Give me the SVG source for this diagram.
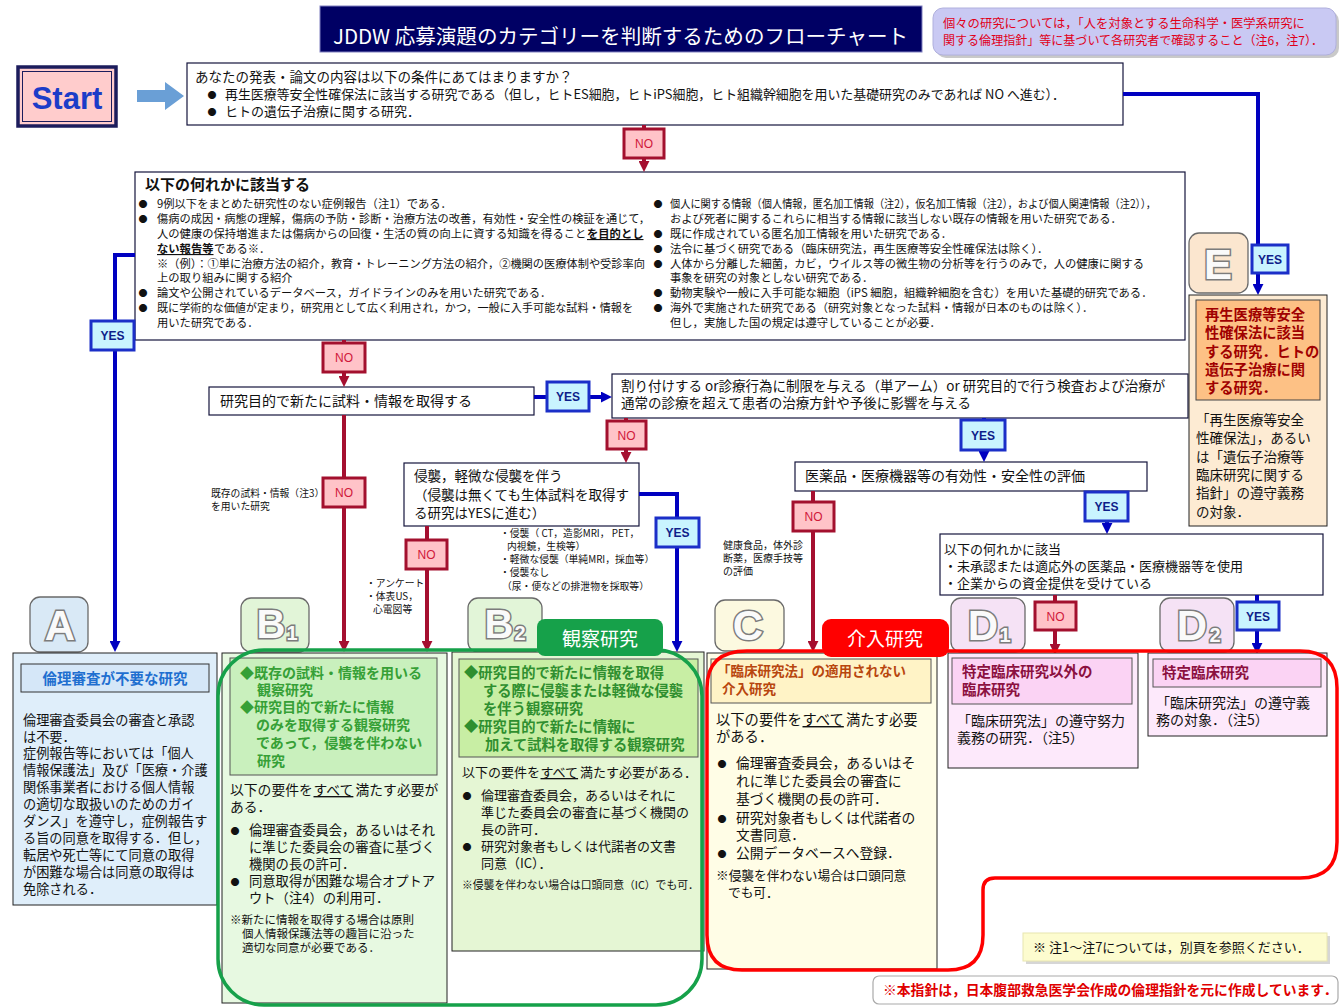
<svg xmlns="http://www.w3.org/2000/svg" width="1344" height="1008" viewBox="0 0 1344 1008">
<defs>
<marker id="ar" viewBox="0 0 10 10" refX="1" refY="5" markerWidth="11" markerHeight="11" markerUnits="userSpaceOnUse" orient="auto"><path d="M0,0 L10,5 L0,10 z" fill="#a50f30"/></marker>
<marker id="ab" viewBox="0 0 10 10" refX="1" refY="5" markerWidth="11" markerHeight="11" markerUnits="userSpaceOnUse" orient="auto"><path d="M0,0 L10,5 L0,10 z" fill="#0000c0"/></marker>
</defs>
<style>
text{font-family:"Noto Sans CJK JP","Noto Sans CJK SC",sans-serif;fill:#111;}
.bx{fill:#fff;stroke:#14143c;stroke-width:1.2}
.rl{fill:none;stroke:#a50f30;stroke-width:4}
.bl{fill:none;stroke:#0000c0;stroke-width:4}
.no rect{fill:#ffc3c8;stroke:#a3102e;stroke-width:3}
.no text{fill:#d0183a;font-family:"Liberation Sans",Arial,sans-serif;font-size:12px;text-anchor:middle}
.yes rect{fill:#c9f4ff;stroke:#1b2fc8;stroke-width:3}
.yes text{fill:#0e1e8a;font-family:"Liberation Sans",Arial,sans-serif;font-size:12px;font-weight:bold;text-anchor:middle}
.lbl rect{stroke:#6a6a6a;stroke-width:1.3}
.lbl text{font-family:"Liberation Sans",Arial,sans-serif;font-weight:bold;fill:#fafafa;stroke:#7c7c7c;stroke-width:3;paint-order:stroke;text-anchor:middle}
.s11{font-size:11.3px}
.sm{font-size:9.8px}
.bu{font-size:9px;text-anchor:middle}
.u{text-decoration:underline;font-weight:bold}
.un{text-decoration:underline}
.cat{fill:#fff;font-size:19px;text-anchor:middle}
</style>
<rect x="0" y="0" width="1344" height="1008" fill="#fff"/>

<g id="title">
<rect x="320" y="6" width="602" height="46" fill="#000064" stroke="#8080c0" stroke-width="1"/>
<text x="333" y="44" font-size="20.5" style="fill:#fff" textLength="575" lengthAdjust="spacingAndGlyphs">JDDW 応募演題のカテゴリーを判断するためのフローチャート</text>
</g>

<g id="topnote">
<rect x="936" y="11" width="403" height="47" rx="10" fill="#888" opacity="0.45"/>
<rect x="933" y="8" width="403" height="47" rx="10" fill="#c9c9f3" stroke="#b0b0dd" stroke-width="1"/>
<text x="943" y="28" font-size="12.3" style="fill:#e0001a">個々の研究については，「人を対象とする生命科学・医学系研究に</text>
<text x="943" y="45" font-size="12.3" style="fill:#e0001a" textLength="380" lengthAdjust="spacingAndGlyphs">関する倫理指針」等に基づいて各研究者で確認すること（注6，注7）．</text>
</g>

<g id="start">
<rect x="18" y="67" width="98" height="59" fill="#ffcccc" stroke="#1c1c5c" stroke-width="3.5"/>
<rect x="22.5" y="71.5" width="89" height="50" fill="none" stroke="#1c1c5c" stroke-width="1"/>
<text x="67" y="109" font-size="31" font-weight="bold" text-anchor="middle" style="fill:#1c3cc8;font-family:'Liberation Sans',Arial,sans-serif">Start</text>
<polygon points="137,90 165,90 165,82 184,96 165,110 165,102 137,102" fill="#6a9fd6"/>
</g>

<g id="q1">
<rect class="bx" x="187" y="63" width="936" height="62"/>
<text x="195" y="82" font-size="13.5">あなたの発表・論文の内容は以下の条件にあてはまりますか？</text>
<text x="212" y="98" class="bu" font-size="10">●</text>
<text x="225" y="99" font-size="13" textLength="840" lengthAdjust="spacingAndGlyphs">再生医療等安全性確保法に該当する研究である（但し，ヒトES細胞，ヒトiPS細胞，ヒト組織幹細胞を用いた基礎研究のみであれば NO へ進む）．</text>
<text x="212" y="115" class="bu" font-size="10">●</text>
<text x="225" y="116" font-size="13">ヒトの遺伝子治療に関する研究．</text>
</g>

<g id="q2">
<rect class="bx" x="135" y="172" width="1050" height="168"/>
<text x="145" y="190" font-size="15" font-weight="bold">以下の何れかに該当する</text>
<text x="143" y="207" class="bu">●</text>
<text x="157" y="208" class="s11">9例以下をまとめた研究性のない症例報告（注1）である．</text>
<text x="143" y="222" class="bu">●</text>
<text x="157" y="223" class="s11" textLength="493" lengthAdjust="spacingAndGlyphs">傷病の成因・病態の理解，傷病の予防・診断・治療方法の改善，有効性・安全性の検証を通じて，</text>
<text x="157" y="238" class="s11">人の健康の保持増進または傷病からの回復・生活の質の向上に資する知識を得ること</text>
<text x="587" y="238" class="s11 u">を目的とし</text>
<text x="157" y="253" class="s11 u">ない報告等</text>
<text x="214" y="253" class="s11">である※．</text>
<text x="157" y="268" class="s11" textLength="488" lengthAdjust="spacingAndGlyphs">※（例）：①単に治療方法の紹介，教育・トレーニング方法の紹介，②機関の医療体制や受診率向</text>
<text x="157" y="282" class="s11">上の取り組みに関する紹介</text>
<text x="143" y="296" class="bu">●</text>
<text x="157" y="297" class="s11">論文や公開されているデータベース，ガイドラインのみを用いた研究である．</text>
<text x="143" y="311" class="bu">●</text>
<text x="157" y="312" class="s11" textLength="476" lengthAdjust="spacingAndGlyphs">既に学術的な価値が定まり，研究用として広く利用され，かつ，一般に入手可能な試料・情報を</text>
<text x="157" y="327" class="s11">用いた研究である．</text>

<text x="658" y="207" class="bu">●</text>
<text x="670" y="208" class="s11" textLength="486" lengthAdjust="spacingAndGlyphs">個人に関する情報（個人情報，匿名加工情報（注2），仮名加工情報（注2），および個人関連情報（注2）），</text>
<text x="670" y="223" class="s11">および死者に関するこれらに相当する情報に該当しない既存の情報を用いた研究である．</text>
<text x="658" y="237" class="bu">●</text>
<text x="670" y="238" class="s11">既に作成されている匿名加工情報を用いた研究である．</text>
<text x="658" y="252" class="bu">●</text>
<text x="670" y="253" class="s11">法令に基づく研究である（臨床研究法，再生医療等安全性確保法は除く）．</text>
<text x="658" y="267" class="bu">●</text>
<text x="670" y="268" class="s11">人体から分離した細菌，カビ，ウイルス等の微生物の分析等を行うのみで，人の健康に関する</text>
<text x="670" y="282" class="s11">事象を研究の対象としない研究である．</text>
<text x="658" y="296" class="bu">●</text>
<text x="670" y="297" class="s11">動物実験や一般に入手可能な細胞（iPS 細胞，組織幹細胞を含む）を用いた基礎的研究である．</text>
<text x="658" y="311" class="bu">●</text>
<text x="670" y="312" class="s11">海外で実施された研究である（研究対象となった試料・情報が日本のものは除く）．</text>
<text x="670" y="327" class="s11">但し，実施した国の規定は遵守していることが必要．</text>
</g>

<g id="q3">
<rect class="bx" x="209" y="387" width="325" height="28"/>
<text x="220" y="406" font-size="14">研究目的で新たに試料・情報を取得する</text>
</g>

<g id="q4">
<rect class="bx" x="612" y="374" width="576" height="44"/>
<text x="621" y="391" font-size="13.5">割り付けする or診療行為に制限を与える（単アーム）or 研究目的で行う検査および治療が</text>
<text x="621" y="408" font-size="13.5">通常の診療を超えて患者の治療方針や予後に影響を与える</text>
</g>

<g id="q5">
<rect class="bx" x="404" y="463" width="235" height="63"/>
<text x="414" y="481" font-size="13.5">侵襲，軽微な侵襲を伴う</text>
<text x="414" y="500" font-size="13.5">（侵襲は無くても生体試料を取得す</text>
<text x="414" y="518" font-size="13.5">る研究はYESに進む）</text>
</g>

<g id="q6">
<rect class="bx" x="795" y="462" width="352" height="29"/>
<text x="805" y="481" font-size="14">医薬品・医療機器等の有効性・安全性の評価</text>
</g>

<g id="q7">
<rect class="bx" x="940" y="534" width="383" height="61"/>
<text x="944" y="554" font-size="13">以下の何れかに該当</text>
<text x="944" y="571" font-size="13">・未承認または適応外の医薬品・医療機器等を使用</text>
<text x="944" y="588" font-size="13">・企業からの資金提供を受けている</text>
</g>

<g id="notes-small">
<text x="211" y="497" class="sm">既存の試料・情報（注3）</text>
<text x="211" y="510" class="sm">を用いた研究</text>
<text x="366" y="587" class="sm">・アンケート</text>
<text x="366" y="600" class="sm">・体表US，</text>
<text x="373" y="613" class="sm">心電図等</text>
<text x="500" y="537" class="sm">・侵襲（ CT，造影MRI，  PET，</text>
<text x="507" y="550" class="sm">内視鏡，生検等）</text>
<text x="500" y="563" class="sm">・軽微な侵襲（単純MRI，採血等）</text>
<text x="500" y="576" class="sm">・侵襲なし</text>
<text x="502" y="590" class="sm">（尿・便などの排泄物を採取等）</text>
<text x="723" y="549" font-size="10">健康食品，体外診</text>
<text x="723" y="562" font-size="10">断薬，医療手技等</text>
<text x="723" y="575" font-size="10">の評価</text>
</g>

<g id="connectors">
<path class="rl" d="M644 125 V162" marker-end="url(#ar)"/>
<path class="rl" d="M344 340 V377" marker-end="url(#ar)"/>
<path class="rl" d="M344 415 V642" marker-end="url(#ar)"/>
<path class="rl" d="M626 418 V453" marker-end="url(#ar)"/>
<path class="rl" d="M427 526 V642" marker-end="url(#ar)"/>
<path class="rl" d="M813 491 V642" marker-end="url(#ar)"/>
<path class="rl" d="M1055 595 V645" marker-end="url(#ar)"/>
<path class="bl" d="M1123 94 H1258 V285" marker-end="url(#ab)"/>
<path class="bl" d="M135 255 H115 V642" marker-end="url(#ab)"/>
<path class="bl" d="M534 397 H602" marker-end="url(#ab)"/>
<path class="bl" d="M984 418 V452" marker-end="url(#ab)"/>
<path class="bl" d="M639 494 H677 V642" marker-end="url(#ab)"/>
<path class="bl" d="M1107 491 V524" marker-end="url(#ab)"/>
<path class="bl" d="M1257 595 V644" marker-end="url(#ab)"/>
</g>

<g id="edge-labels">
<g class="no"><rect x="624" y="129" width="40" height="29"/><text x="644" y="148">NO</text></g>
<g class="no"><rect x="323" y="343" width="42" height="29"/><text x="344" y="362">NO</text></g>
<g class="no"><rect x="323" y="478" width="42" height="29"/><text x="344" y="497">NO</text></g>
<g class="no"><rect x="607" y="421" width="39" height="28"/><text x="626.5" y="440">NO</text></g>
<g class="no"><rect x="406" y="540" width="41" height="29"/><text x="426.5" y="559">NO</text></g>
<g class="no"><rect x="793" y="502" width="41" height="29"/><text x="813.5" y="521">NO</text></g>
<g class="no"><rect x="1035" y="602" width="41" height="28"/><text x="1055.5" y="621">NO</text></g>
<g class="yes"><rect x="1252" y="245" width="36" height="28"/><text x="1270" y="264">YES</text></g>
<g class="yes"><rect x="91" y="321" width="43" height="29"/><text x="112.5" y="340">YES</text></g>
<g class="yes"><rect x="547" y="382" width="42" height="29"/><text x="568" y="401">YES</text></g>
<g class="yes"><rect x="961" y="420" width="44" height="30"/><text x="983" y="440">YES</text></g>
<g class="yes"><rect x="656" y="518" width="43" height="29"/><text x="677.5" y="537">YES</text></g>
<g class="yes"><rect x="1085" y="492" width="43" height="29"/><text x="1106.5" y="511">YES</text></g>
<g class="yes"><rect x="1237" y="602" width="42" height="28"/><text x="1258" y="621">YES</text></g>
</g>

<g id="label-A" class="lbl"><rect x="30" y="597" width="58" height="55" rx="10" fill="#d9e9f6"/><text x="60" y="640" font-size="42">A</text></g>
<g id="label-B1" class="lbl"><rect x="241" y="598" width="68" height="54" rx="10" fill="#e2f5d8"/><text x="271" y="638" font-size="40">B</text><text x="292" y="640" font-size="20">1</text></g>
<g id="label-B2" class="lbl"><rect x="468" y="598" width="74" height="54" rx="10" fill="#e2f5d8"/><text x="499" y="638" font-size="40">B</text><text x="520" y="640" font-size="20">2</text></g>
<g id="label-C" class="lbl"><rect x="715" y="600" width="69" height="51" rx="10" fill="#fcf9e0"/><text x="748" y="640" font-size="42">C</text></g>
<g id="label-D1" class="lbl"><rect x="951" y="598" width="74" height="54" rx="10" fill="#f5e2f5"/><text x="983" y="640" font-size="42">D</text><text x="1005" y="642" font-size="20">1</text></g>
<g id="label-D2" class="lbl"><rect x="1160" y="598" width="74" height="54" rx="10" fill="#f5e2f5"/><text x="1192" y="640" font-size="42">D</text><text x="1215" y="642" font-size="20">2</text></g>
<g id="label-E" class="lbl"><rect x="1189" y="233" width="59" height="60" rx="10" fill="#fbe6cf"/><text x="1218" y="279" font-size="42">E</text></g>

<g id="node-E">
<rect x="1189" y="295" width="138" height="231" fill="#fdebd3" stroke="#222" stroke-width="1"/>
<rect x="1196" y="300" width="124" height="100" fill="#fdc185" stroke="#444" stroke-width="1"/>
<g font-size="14.3" font-weight="bold">
<text x="1205" y="320" style="fill:#a00000">再生医療等安全</text>
<text x="1205" y="338" style="fill:#a00000">性確保法に該当</text>
<text x="1205" y="357" style="fill:#a00000">する研究．ヒトの</text>
<text x="1205" y="375" style="fill:#a00000">遺伝子治療に関</text>
<text x="1205" y="393" style="fill:#a00000">する研究．</text>
</g>
<text x="1196" y="425" font-size="13.5">「再生医療等安全</text>
<text x="1196" y="443" font-size="13.5">性確保法」，あるい</text>
<text x="1196" y="462" font-size="13.5">は「遺伝子治療等</text>
<text x="1196" y="480" font-size="13.5">臨床研究に関する</text>
<text x="1196" y="498" font-size="13.5">指針」の遵守義務</text>
<text x="1196" y="517" font-size="13.5">の対象．</text>
</g>

<g id="node-A">
<rect x="13" y="653" width="204" height="252" fill="#dfeefa" stroke="#222" stroke-width="1"/>
<rect x="21" y="664" width="188" height="28" fill="#d5e7f8" stroke="#333" stroke-width="1"/>
<text x="115" y="684" font-size="14.5" font-weight="bold" text-anchor="middle" style="fill:#1f6fd0">倫理審査が不要な研究</text>
<g font-size="13.2">
<text x="23" y="725">倫理審査委員会の審査と承認</text>
<text x="23" y="742">は不要．</text>
<text x="23" y="758">症例報告等においては「個人</text>
<text x="23" y="775">情報保護法」及び「医療・介護</text>
<text x="23" y="792">関係事業者における個人情報</text>
<text x="23" y="809">の適切な取扱いのためのガイ</text>
<text x="23" y="826">ダンス」を遵守し，症例報告す</text>
<text x="23" y="843">る旨の同意を取得する．但し，</text>
<text x="23" y="860">転居や死亡等にて同意の取得</text>
<text x="23" y="877">が困難な場合は同意の取得は</text>
<text x="23" y="894">免除される．</text>
</g>
</g>

<g id="node-B1">
<rect x="222" y="653" width="225" height="350" fill="#e7f9e1" stroke="#222" stroke-width="1"/>
<rect x="230" y="658" width="207" height="117" fill="#c9f0bd" stroke="#555" stroke-width="1"/>
<g font-size="14" font-weight="bold">
<text x="240" y="678" style="fill:#36a036">◆既存の試料・情報を用いる</text>
<text x="257" y="695" style="fill:#36a036">観察研究</text>
<text x="240" y="712" style="fill:#36a036">◆研究目的で新たに情報</text>
<text x="256" y="730" style="fill:#36a036">のみを取得する観察研究</text>
<text x="256" y="748" style="fill:#36a036">であって，侵襲を伴わない</text>
<text x="257" y="766" style="fill:#36a036">研究</text>
</g>
<text x="230" y="795" font-size="13.8">以下の要件を</text>
<text x="313.5" y="795" font-size="13.8" class="un">すべて</text>
<text x="355.5" y="795" font-size="13.8">満たす必要が</text>
<text x="230" y="812" font-size="13.8">ある．</text>
<text x="235" y="834" class="bu" font-size="11">●</text>
<text x="249" y="835" font-size="13.3">倫理審査委員会，あるいはそれ</text>
<text x="249" y="852" font-size="13.3">に準じた委員会の審査に基づく</text>
<text x="249" y="869" font-size="13.3">機関の長の許可．</text>
<text x="235" y="885" class="bu" font-size="11">●</text>
<text x="249" y="886" font-size="13.3">同意取得が困難な場合オプトア</text>
<text x="249" y="903" font-size="13.3">ウト（注4）の利用可．</text>
<text x="230" y="924" font-size="11.5">※新たに情報を取得する場合は原則</text>
<text x="242" y="938" font-size="11.5">個人情報保護法等の趣旨に沿った</text>
<text x="242" y="952" font-size="11.5">適切な同意が必要である．</text>
</g>

<g id="node-B2">
<rect x="452" y="652" width="252" height="299" fill="#e5f6d4" stroke="#222" stroke-width="1"/>
<rect x="459" y="659" width="239" height="98" fill="#c8eea4" stroke="#555" stroke-width="1"/>
<g font-size="14.3" font-weight="bold">
<text x="464" y="678" style="fill:#2f8f2f">◆研究目的で新たに情報を取得</text>
<text x="483" y="696" style="fill:#2f8f2f">する際に侵襲または軽微な侵襲</text>
<text x="483" y="714" style="fill:#2f8f2f">を伴う観察研究</text>
<text x="464" y="732" style="fill:#2f8f2f">◆研究目的で新たに情報に</text>
<text x="485" y="750" style="fill:#2f8f2f">加えて試料を取得する観察研究</text>
</g>
<text x="462" y="777" font-size="13">以下の要件を</text>
<text x="540.5" y="777" font-size="13" class="un">すべて</text>
<text x="580" y="777" font-size="13">満たす必要がある．</text>
<text x="467" y="799" class="bu" font-size="11">●</text>
<text x="481" y="800" font-size="13">倫理審査委員会，あるいはそれに</text>
<text x="481" y="817" font-size="13">準じた委員会の審査に基づく機関の</text>
<text x="481" y="834" font-size="13">長の許可．</text>
<text x="467" y="850" class="bu" font-size="11">●</text>
<text x="481" y="851" font-size="13">研究対象者もしくは代諾者の文書</text>
<text x="481" y="868" font-size="13">同意（IC）．</text>
<text x="462" y="889" font-size="10.8">※侵襲を伴わない場合は口頭同意（IC）でも可．</text>
</g>

<g id="node-C">
<rect x="707" y="653" width="230" height="316" fill="#fffde6" stroke="#222" stroke-width="1"/>
<rect x="711" y="659" width="220" height="44" fill="#fff3c6" stroke="#555" stroke-width="1"/>
<text x="717" y="676" font-size="13.5" font-weight="bold" style="fill:#b8460e">「臨床研究法」の適用されない</text>
<text x="722" y="694" font-size="13.5" font-weight="bold" style="fill:#b8460e">介入研究</text>
<text x="716" y="725" font-size="14.3">以下の要件を</text>
<text x="802.5" y="725" font-size="14.3" class="un">すべて</text>
<text x="846" y="725" font-size="14.3">満たす必要</text>
<text x="716" y="742" font-size="14.3">がある．</text>
<text x="722" y="767" class="bu" font-size="11">●</text>
<text x="736" y="768" font-size="13.8">倫理審査委員会，あるいはそ</text>
<text x="736" y="786" font-size="13.8">れに準じた委員会の審査に</text>
<text x="736" y="804" font-size="13.8">基づく機関の長の許可．</text>
<text x="722" y="822" class="bu" font-size="11">●</text>
<text x="736" y="823" font-size="13.8">研究対象者もしくは代諾者の</text>
<text x="736" y="840" font-size="13.8">文書同意．</text>
<text x="722" y="857" class="bu" font-size="11">●</text>
<text x="736" y="858" font-size="13.8">公開データベースへ登録．</text>
<text x="716" y="880" font-size="12.7">※侵襲を伴わない場合は口頭同意</text>
<text x="728" y="897" font-size="12.7">でも可．</text>
</g>

<g id="node-D1">
<rect x="948" y="653" width="190" height="115" fill="#fde9fb" stroke="#222" stroke-width="1"/>
<rect x="952" y="658" width="180" height="46" fill="#fbd3f4" stroke="#555" stroke-width="1"/>
<text x="962" y="677" font-size="14.5" font-weight="bold" style="fill:#8b1040">特定臨床研究以外の</text>
<text x="962" y="695" font-size="14.5" font-weight="bold" style="fill:#8b1040">臨床研究</text>
<text x="957" y="726" font-size="14">「臨床研究法」の遵守努力</text>
<text x="957" y="743" font-size="14">義務の研究．（注5）</text>
</g>

<g id="node-D2">
<rect x="1148" y="653" width="179" height="83" fill="#fde9fb" stroke="#222" stroke-width="1"/>
<rect x="1153" y="659" width="168" height="28" fill="#fbd3f4" stroke="#555" stroke-width="1"/>
<text x="1162" y="678" font-size="14.5" font-weight="bold" style="fill:#8b1040">特定臨床研究</text>
<text x="1156" y="708" font-size="14">「臨床研究法」の遵守義</text>
<text x="1156" y="725" font-size="14">務の対象．（注5）</text>
</g>

<g id="group-outlines">
<rect x="218" y="650" width="484" height="355" rx="46" fill="none" stroke="#16a14a" stroke-width="3.5"/>
<path d="M747 651 H1300 Q1337 651 1337 688 V842 Q1337 878 1300 878 H995 Q983 878 983 890 V935 Q983 970 948 970 H742 Q707 970 707 935 V688 Q707 651 747 651 Z" fill="none" stroke="#ff0000" stroke-width="3.5"/>
</g>

<g id="tag-kansatsu">
<rect x="537" y="619" width="126" height="37" rx="8" fill="#16a14a"/>
<text x="600" y="646" class="cat" style="fill:#fff">観察研究</text>
</g>
<g id="tag-kainyu">
<rect x="822" y="619" width="127" height="38" rx="9" fill="#ff0000"/>
<text x="885" y="646" class="cat" style="fill:#fff">介入研究</text>
</g>

<g id="note-yellow">
<rect x="1026" y="936" width="304" height="28" fill="#bbb" opacity="0.6"/>
<rect x="1023" y="933" width="304" height="28" fill="#fdfccf" stroke="#e8e6b0" stroke-width="1"/>
<text x="1033" y="952" font-size="13">※ 注1～注7については，別頁を参照ください．</text>
</g>

<g id="note-bottom">
<rect x="873" y="976" width="465" height="28" rx="6" fill="#fff" stroke="#aaa" stroke-width="1.2"/>
<text x="883" y="995" font-size="13.8" font-weight="bold" style="fill:#e00000">※本指針は，日本腹部救急医学会作成の倫理指針を元に作成しています．</text>
</g>
</svg>
